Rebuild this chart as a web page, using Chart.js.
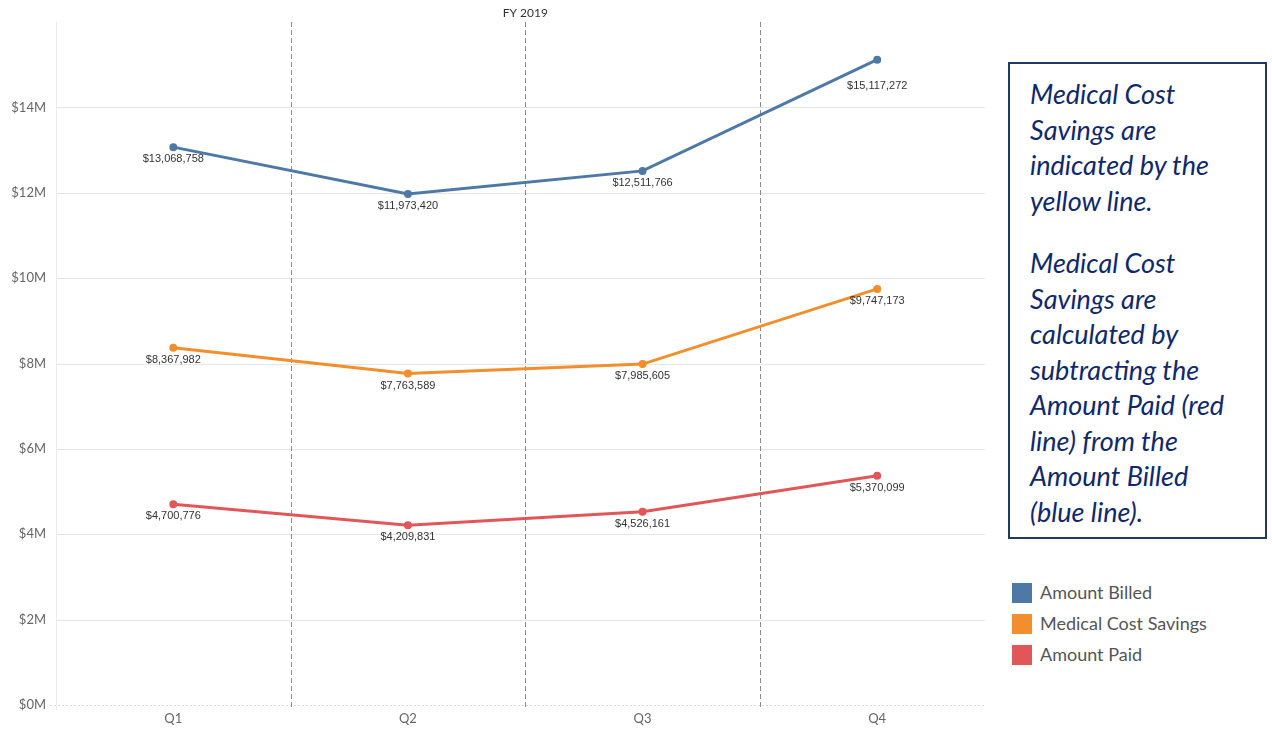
<!DOCTYPE html>
<html>
<head>
<meta charset="utf-8">
<script src="https://cdn.jsdelivr.net/npm/chart.js@4.4.1/dist/chart.umd.min.js"></script>
<style>
  body { margin: 0; background: #fff; width: 1272px; height: 729px; overflow: hidden; position: relative; }
  .wrap { position: absolute; left: 0; top: 0; width: 1000px; height: 729px; }
  .note {
    position: absolute; left: 1008px; top: 62px; width: 255px; height: 473px;
    border: 2px solid #1f3864; color: #10296a;
    font-family: Lato, "Open Sans", sans-serif; font-style: italic; font-size: 27px;
    line-height: 35.5px; white-space: nowrap; box-sizing: content-box;
  }
  .note p { margin: 12px 0 0 20px; }
  .note p + p { margin-top: 27px; }
  .legend { position: absolute; left: 1012px; top: 583px; font-family: Lato, sans-serif; font-size: 18px; color: #555; white-space: nowrap; }
  .legend div { height: 31px; width: 250px; position: relative; }
  .legend span.sw { position: absolute; left: 0; top: 0; width: 20px; height: 20px; }
  .legend span.tx { position: absolute; left: 28px; top: -1px; line-height: 21px; }
</style>
</head>
<body>
<div class="wrap"><canvas id="myChart" width="1000" height="729"></canvas></div>
<div class="note">
  <p>Medical Cost<br>Savings are<br>indicated by the<br>yellow line.</p>
  <p>Medical Cost<br>Savings are<br>calculated by<br>subtracting the<br>Amount Paid (red<br>line) from the<br>Amount Billed<br>(blue line).</p>
</div>
<div class="legend" id="legend"></div>
<script>
var quarters = ["Q1", "Q2", "Q3", "Q4"];
var billed = [13068758, 11973420, 12511766, 15117272];
var savings = [8367982, 7763589, 7985605, 9747173];
var paid = [4700776, 4209831, 4526161, 5370099];
var seriesNames = ["Amount Billed", "Medical Cost Savings", "Amount Paid"];
var seriesColors = ['#4e79a7', '#f28e2b', '#e15759'];
var yTicks = [0, 2000000, 4000000, 6000000, 8000000, 10000000, 12000000, 14000000];

function money(v) {
  return '$' + Math.round(v).toLocaleString('en-US');
}

// gridlines, quarter dividers and the title
var backdrop = {
  id: 'backdrop',
  beforeDatasetsDraw: function(chart) {
    var ctx = chart.ctx, a = chart.chartArea;
    var y = chart.scales.y, x = chart.scales.x;
    var gridRight = 985;
    ctx.save();
    ctx.lineWidth = 1;
    ctx.strokeStyle = '#e6e6e6';
    yTicks.forEach(function(t) {
      if (t === 0) return;
      var py = Math.round(y.getPixelForValue(t)) + 0.5;
      ctx.beginPath(); ctx.moveTo(a.left, py); ctx.lineTo(gridRight, py); ctx.stroke();
    });
    // left axis line
    ctx.strokeStyle = '#ececec';
    ctx.beginPath(); ctx.moveTo(a.left + 0.5, a.top); ctx.lineTo(a.left + 0.5, a.bottom + 5); ctx.stroke();
    // zero line, dotted
    ctx.strokeStyle = '#dcdcdc';
    ctx.setLineDash([2, 2]);
    var zy = Math.round(y.getPixelForValue(0)) + 0.5;
    ctx.beginPath(); ctx.moveTo(a.left - 6, zy); ctx.lineTo(gridRight, zy); ctx.stroke();
    // quarter dividers
    ctx.strokeStyle = '#8a8a8a';
    ctx.setLineDash([5, 3]);
    for (var i = 1; i < quarters.length; i++) {
      var px = Math.round((x.getPixelForValue(i - 1) + x.getPixelForValue(i)) / 2) + 0.5;
      ctx.beginPath(); ctx.moveTo(px, a.top); ctx.lineTo(px, a.bottom + 5); ctx.stroke();
    }
    ctx.setLineDash([]);
    ctx.fillStyle = '#333';
    ctx.font = '12px Lato, sans-serif';
    ctx.textAlign = 'center';
    ctx.textBaseline = 'middle';
    ctx.fillText('FY 2019', (a.left + a.right) / 2, 13);
    ctx.restore();
  },
  afterDatasetsDraw: function(chart) {
    var ctx = chart.ctx;
    ctx.save();
    ctx.fillStyle = '#333';
    ctx.font = '11px "Liberation Sans", sans-serif';
    ctx.textAlign = 'center';
    ctx.textBaseline = 'middle';
    chart.data.datasets.forEach(function(ds, di) {
      chart.getDatasetMeta(di).data.forEach(function(pt, i) {
        var dy = 12;
        if (di === 0 && i === quarters.length - 1) dy = 26;
        ctx.fillText(money(ds.data[i]), pt.x, pt.y + dy);
      });
    });
    ctx.restore();
  }
};

var seriesData = [billed, savings, paid];
var datasets = seriesData.map(function(d, i) {
  return {
    label: seriesNames[i],
    data: d,
    borderColor: seriesColors[i],
    backgroundColor: seriesColors[i],
    borderWidth: 3,
    pointRadius: 2.5,
    pointHoverRadius: 2.5,
    tension: 0
  };
});

var ctx = document.getElementById('myChart').getContext('2d');
var myChart = new Chart(ctx, {
  type: 'line',
  data: { labels: quarters, datasets: datasets },
  options: {
    responsive: false,
    animation: false,
    layout: { padding: { top: 22, right: 4, left: 0, bottom: 0 } },
    plugins: { legend: { display: false }, tooltip: { enabled: false } },
    scales: {
      x: {
        type: 'category',
        offset: true,
        grid: { display: false, drawTicks: false },
        border: { display: false },
        ticks: { color: '#666', font: { family: 'Lato, sans-serif', size: 13 }, padding: 6 },
        afterFit: function(s) { s.height = 24; }
      },
      y: {
        min: 0,
        max: 16000000,
        afterBuildTicks: function(s) { s.ticks = yTicks.map(function(v) { return { value: v }; }); },
        grid: { display: false, drawTicks: false },
        border: { display: false },
        ticks: {
          color: '#666',
          font: { family: 'Lato, sans-serif', size: 13 },
          padding: 10,
          callback: function(v) { return '$' + (v / 1000000) + 'M'; }
        },
        afterFit: function(s) { s.width = 56; }
      }
    }
  },
  plugins: [backdrop]
});

var legend = document.getElementById('legend');
seriesNames.forEach(function(n, i) {
  var row = document.createElement('div');
  row.innerHTML = '<span class="sw" style="background:' + seriesColors[i] + '"></span><span class="tx">' + n + '</span>';
  legend.appendChild(row);
});
</script>
</body>
</html>
